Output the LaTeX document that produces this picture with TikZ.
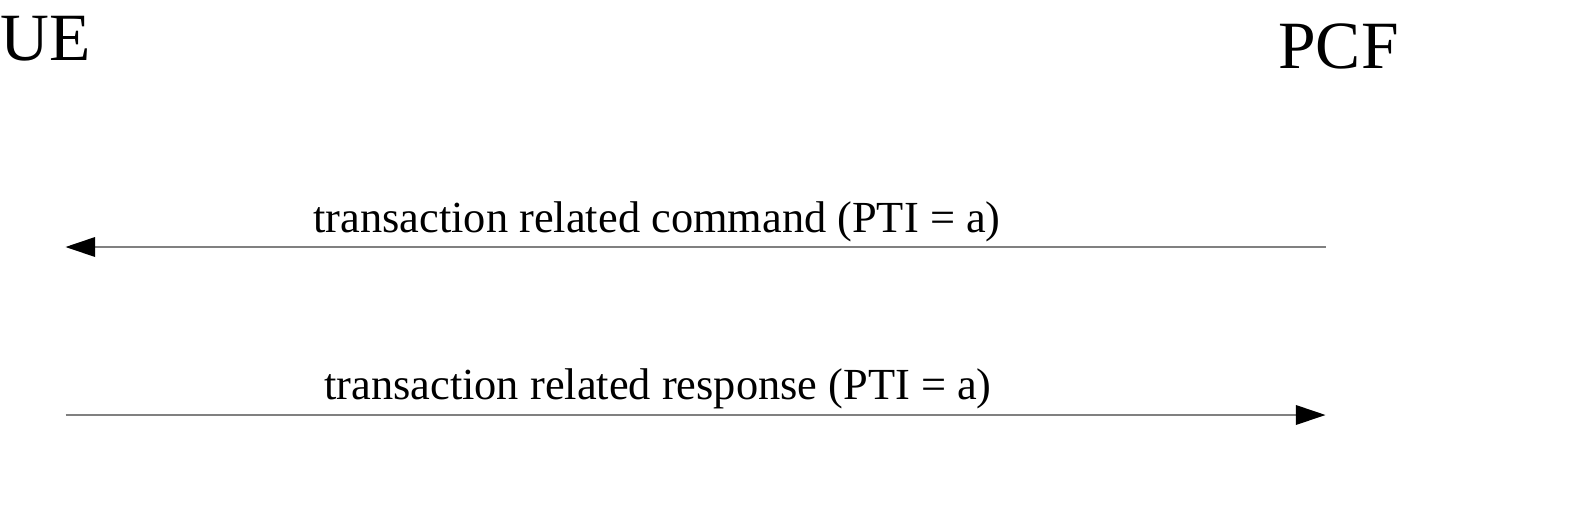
\documentclass[tikz,border=0pt]{standalone}
\usepackage{fontspec}
\setmainfont{Liberation Serif}
\usetikzlibrary{arrows.meta}

\tikzset{
  entity/.style = {inner sep = 0pt, anchor = base west, font = \fontsize{33.8pt}{36pt}\selectfont},
  msg/.style = {inner sep = 0pt, anchor = base, font = \fontsize{22.2pt}{24pt}\selectfont},
  signal/.style = {draw = gray, line width = .75pt, -{Triangle[length = 14.8pt, width = 9.8pt, color = black]}}
}

\begin{document}
\begin{tikzpicture} [x = .5pt, y = -.5pt]
\useasboundingbox (0,0) rectangle (1581,505);
\node[entity] (ue) at (0,60.5) {UE};
\node[entity] (pcf) at (1278,68.5) {PCF};
\coordinate (ue1) at (65.5,247);
\coordinate (pcf1) at (1325.5,247);
\coordinate (ue2) at (65.5,415);
\coordinate (pcf2) at (1325.5,415);
\node[msg] (cmd) at (657,232) {transaction related command (PTI = a)};
\node[msg] (rsp) at (658,399) {transaction related response (PTI = a)};
\draw [signal] (pcf1) -- (ue1);
\draw [signal] (ue2) -- (pcf2);
\end{tikzpicture}
\end{document}
